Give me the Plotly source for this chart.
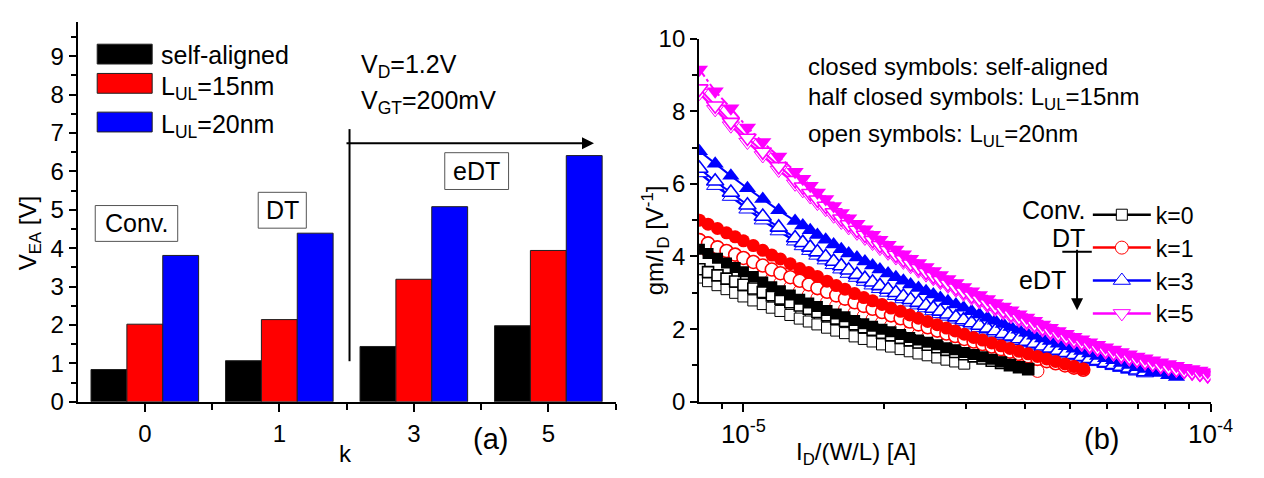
import plotly.graph_objects as go

W, H = 1264, 478
FONT = "Arial, Liberation Sans, sans-serif"

# ---------------- panel (a): V_EA bars ----------------
k_labels = ["0", "1", "3", "5"]
vea_self_aligned = [0.84, 1.07, 1.44, 1.98]
vea_lul15 = [2.02, 2.14, 3.19, 3.94]
vea_lul20 = [3.81, 4.39, 5.08, 6.41]

# ---------------- panel (b): gm/ID vs ID/(W/L) ----------------
# drain current grids in uA (one for k=0,1; one for k=3,5)
id_fine_uA = [8.05, 8.4, 8.8, 9.2, 9.6, 10.0, 10.5, 11.0, 11.5, 12.0, 12.6, 13.2, 13.8,
              14.4, 15.1, 15.8, 16.5, 17.3, 18.1, 18.9, 19.8, 20.7, 21.7, 22.7, 23.7,
              24.8, 26.0, 27.2, 28.4, 29.7, 31.1, 32.5, 34.0, 35.6, 37.2, 38.9, 40.7,
              42.6, 44.6, 46.6, 48.8, 51.0, 53.4]
id_coarse_uA = [8.05, 8.7, 9.4, 10.2, 11.0, 11.9, 12.9, 13.4, 13.9, 14.4, 15.0, 15.6,
                16.2, 16.8, 17.5, 18.2, 18.9, 19.6, 20.4, 21.2, 22.0, 22.8, 23.7, 24.6,
                25.5, 26.4, 27.4, 28.5, 29.6, 30.8, 32.0, 33.3, 34.6, 36.0,
                37.4, 38.9, 40.4, 42.0, 43.7, 45.4, 47.2, 49.1, 51.0, 53.0, 55.1, 57.3,
                59.6, 62.0, 64.4, 67.0, 69.6, 72.4, 75.2, 78.2, 81.3, 84.5, 87.8, 91.3,
                94.9, 98.6]

# k=0 (Conv.)
gm_k0_sa = [4.2, 4.08, 3.95, 3.82, 3.7, 3.58, 3.45, 3.3, 3.17, 3.06, 2.94, 2.82, 2.72,
            2.62, 2.51, 2.42, 2.34, 2.24, 2.15, 2.08, 2.0, 1.93, 1.85, 1.77, 1.7, 1.64,
            1.57, 1.49, 1.43, 1.36, 1.3, 1.24, 1.17, 1.1, 1.02, 0.95, 0.9]
gm_k0_15 = [3.65, 3.57, 3.48, 3.39, 3.31, 3.22, 3.12, 3.02, 2.93, 2.84, 2.74, 2.65, 2.56,
            2.47, 2.38, 2.29, 2.22, 2.13, 2.05, 1.98, 1.9, 1.83, 1.76, 1.69, 1.63, 1.57,
            1.5, 1.43, 1.37, 1.31, 1.25, 1.19, 1.13, 1.07, 1.01, 0.95, 0.9]
gm_k0_20 = [3.42, 3.32, 3.21, 3.1, 3.0, 2.9, 2.79, 2.69, 2.59, 2.5, 2.39, 2.29, 2.21,
            2.13, 2.04, 1.96, 1.89, 1.8, 1.73, 1.66, 1.58, 1.52, 1.45, 1.39, 1.33, 1.28,
            1.22, 1.16, 1.11, 1.05]
# k=1 (DT)
gm_k1_sa = [5.0, 4.89, 4.77, 4.65, 4.54, 4.43, 4.3, 4.17, 4.04, 3.93, 3.8, 3.67, 3.56,
            3.45, 3.32, 3.2, 3.1, 2.98, 2.87, 2.78, 2.68, 2.58, 2.49, 2.39, 2.3, 2.21,
            2.12, 2.03, 1.95, 1.86, 1.77, 1.7, 1.62, 1.54, 1.47, 1.39, 1.32, 1.25, 1.18,
            1.11, 1.04, 0.97, 0.9]
gm_k1_15 = [4.45, 4.36, 4.25, 4.15, 4.05, 3.96, 3.85, 3.75, 3.64, 3.54, 3.43, 3.33, 3.23,
            3.13, 3.03, 2.93, 2.84, 2.74, 2.64, 2.56, 2.47, 2.38, 2.3, 2.21, 2.13, 2.05,
            1.96, 1.88, 1.81, 1.73, 1.66, 1.59, 1.52, 1.45, 1.38, 1.32, 1.25, 1.18, 1.12,
            1.06, 1.0, 0.94, 0.88]
gm_k1_20 = [4.25, 4.14, 4.03, 3.92, 3.82, 3.72, 3.6, 3.48, 3.37, 3.27, 3.15, 3.04, 2.94,
            2.85, 2.74, 2.64, 2.55, 2.45, 2.36, 2.27, 2.18, 2.09, 2.0, 1.92, 1.85, 1.77,
            1.69, 1.61, 1.54, 1.47, 1.4, 1.33, 1.26, 1.19, 1.11, 1.03, 0.95, 0.85]
# k=3 (eDT)
gm_k3_sa = [6.9, 6.55, 6.22, 5.88, 5.58, 5.27, 4.98, 4.85, 4.72, 4.59, 4.46, 4.33, 4.2,
            4.08, 3.97, 3.86, 3.75, 3.64, 3.53, 3.43, 3.33, 3.23, 3.13, 3.04, 2.95, 2.86,
            2.77, 2.68, 2.59, 2.49, 2.4, 2.31, 2.23, 2.14, 2.06, 1.98,
            1.9, 1.82, 1.74, 1.67, 1.6, 1.53, 1.46, 1.4, 1.33, 1.26, 1.2, 1.14, 1.07,
            1.01, 0.95, 0.9, 0.84, 0.79, 0.73, 0.68]
gm_k3_15 = [6.42, 6.07, 5.76, 5.41, 5.1, 4.8, 4.51, 4.38, 4.25, 4.12, 3.99, 3.86, 3.74,
            3.62, 3.5, 3.39, 3.29, 3.19, 3.09, 3.0, 2.9, 2.81, 2.73, 2.65, 2.57, 2.49,
            2.41, 2.33, 2.25, 2.17, 2.1, 2.02, 1.95, 1.87, 1.8, 1.73,
            1.66, 1.6, 1.53, 1.47, 1.41, 1.35, 1.29, 1.24, 1.18, 1.13, 1.07, 1.02, 0.97,
            0.92, 0.87, 0.82]
gm_k3_20 = [6.3, 5.95, 5.65, 5.3, 5.0, 4.7, 4.42, 4.29, 4.16, 4.03, 3.9, 3.77, 3.65,
            3.53, 3.42, 3.31, 3.21, 3.11, 3.01, 2.92, 2.83, 2.74, 2.66, 2.58, 2.5, 2.42,
            2.35, 2.27, 2.2, 2.11, 2.04, 1.97, 1.89, 1.82, 1.75, 1.68,
            1.62, 1.56, 1.49, 1.43, 1.37, 1.31, 1.26, 1.2, 1.15, 1.1, 1.05, 0.99, 0.94,
            0.89, 0.84, 0.79]
# k=5 (eDT)
gm_k5_sa = [9.15, 8.55, 8.08, 7.55, 7.15, 6.75, 6.33, 6.14, 5.95, 5.76, 5.58, 5.39, 5.2,
            5.05, 4.9, 4.75, 4.6, 4.46, 4.32, 4.19, 4.06, 3.94, 3.82, 3.71, 3.6, 3.49,
            3.38, 3.27, 3.16, 3.04, 2.94, 2.83, 2.72, 2.62, 2.52, 2.41,
            2.32, 2.23, 2.13, 2.04, 1.95, 1.87, 1.79, 1.72, 1.64, 1.57, 1.5, 1.44, 1.37,
            1.31, 1.25, 1.2, 1.14, 1.09, 1.04, 0.99, 0.94, 0.9, 0.86, 0.82]
gm_k5_15 = [8.62, 8.15, 7.7, 7.26, 6.88, 6.48, 6.1, 5.92, 5.74, 5.56, 5.39, 5.21, 5.04,
            4.88, 4.73, 4.59, 4.45, 4.31, 4.17, 4.04, 3.92, 3.8, 3.68, 3.57, 3.46, 3.35,
            3.25, 3.14, 3.03, 2.92, 2.82, 2.71, 2.61, 2.51, 2.41, 2.31,
            2.22, 2.13, 2.03, 1.94, 1.86, 1.78, 1.7, 1.63, 1.55, 1.48, 1.41, 1.35, 1.28,
            1.22, 1.16, 1.1, 1.05, 0.99, 0.94, 0.89, 0.85, 0.81, 0.77, 0.73]
gm_k5_20 = [8.5, 8.05, 7.6, 7.15, 6.78, 6.38, 6.0, 5.82, 5.65, 5.47, 5.3, 5.12, 4.95,
            4.8, 4.65, 4.51, 4.37, 4.23, 4.1, 3.97, 3.85, 3.73, 3.61, 3.5, 3.4, 3.29,
            3.19, 3.08, 2.97, 2.86, 2.76, 2.65, 2.55, 2.45, 2.35, 2.25,
            2.16, 2.07, 1.98, 1.89, 1.81, 1.73, 1.65, 1.58, 1.51, 1.44, 1.37, 1.31, 1.24,
            1.18, 1.13, 1.07, 1.02, 0.97, 0.92, 0.87, 0.83, 0.79, 0.75, 0.71]

BLACK, RED, BLUE, MAG = "#000000", "#ff0000", "#0000ff", "#ff00ff"


def px(x):
    return x / W


def py(y):
    return 1 - y / H


fig = go.Figure()

# ---- bars
xpos = list(range(len(k_labels)))
for vals, col, nm in [(vea_self_aligned, BLACK, "self-aligned"),
                      (vea_lul15, RED, "L_UL=15nm"),
                      (vea_lul20, BLUE, "L_UL=20nm")]:
    fig.add_bar(x=xpos, y=vals, name=nm, marker=dict(color=col, line=dict(color="#202020", width=1)),
                xaxis="x", yaxis="y", showlegend=False)


def xs(grid, vals):
    return [v * 1e-6 for v in grid[:len(vals)]]


series = [
    # (grid, values, color, symbol, style, legend name, legend rank)
    (id_coarse_uA, gm_k3_20, BLUE, "triangle-up", "open", "k=3", 3),
    (id_coarse_uA, gm_k3_15, BLUE, "triangle-up", "half", None, 0),
    (id_coarse_uA, gm_k3_sa, BLUE, "triangle-up", "closed", None, 0),
    (id_coarse_uA, gm_k5_20, MAG, "triangle-down", "open", "k=5", 4),
    (id_coarse_uA, gm_k5_15, MAG, "triangle-down", "half", None, 0),
    (id_coarse_uA, gm_k5_sa, MAG, "triangle-down", "closed", None, 0),
    (id_fine_uA, gm_k1_20, RED, "circle", "open", "k=1", 2),
    (id_fine_uA, gm_k1_15, RED, "circle", "half", None, 0),
    (id_fine_uA, gm_k1_sa, RED, "circle", "closed", None, 0),
    (id_fine_uA, gm_k0_20, BLACK, "square", "open", "k=0", 1),
    (id_fine_uA, gm_k0_15, BLACK, "square", "half", None, 0),
    (id_fine_uA, gm_k0_sa, BLACK, "square", "closed", None, 0),
]
sizes = {"square": 11, "circle": 13, "triangle-up": 15, "triangle-down": 15}
for grid, vals, col, sym, style, nm, rank in series:
    if style == "closed":
        mk = dict(symbol=sym, size=sizes[sym], color=col, line=dict(width=0))
    elif style == "half":
        mk = dict(symbol=sym, size=sizes[sym], color="white", line=dict(color=col, width=1.6))
    else:
        mk = dict(symbol=sym, size=sizes[sym], color="white", line=dict(color=col, width=1))
    dash = "dashdot" if (col == MAG and style == "closed") else "solid"
    fig.add_trace(go.Scatter(
        x=xs(grid, vals), y=vals, mode="lines+markers", marker=mk,
        line=dict(color=col, width=2.5 if style == "open" else 2, dash=dash),
        name=nm if nm else "", showlegend=nm is not None,
        legend="legend2", legendrank=rank if rank else 1000,
        xaxis="x2", yaxis="y2"))

axis_common = dict(showline=True, linecolor="black", linewidth=2, ticks="outside",
                   tickcolor="black", tickwidth=2, showgrid=False, zeroline=False,
                   mirror=False)

fig.update_layout(
    width=W, height=H, autosize=False,
    margin=dict(l=0, r=0, t=0, b=0),
    paper_bgcolor="white", plot_bgcolor="white",
    font=dict(family=FONT, color="black", size=24),
    barmode="group", bargap=0.2, bargroupgap=0,
    showlegend=True,
    xaxis=dict(domain=[px(79), px(627)], range=[-0.5, 3.5], tickmode="array",
               tickvals=xpos, ticktext=k_labels, ticklen=8, anchor="y",
               ticklabelstandoff=1, tickfont=dict(size=24, family=FONT, color="black"),
               minor=dict(tickmode="array", tickvals=[0.5, 1.5, 2.5, 3.5], ticklen=6,
                          ticks="outside", tickcolor="black", tickwidth=2),
               **axis_common),
    yaxis=dict(domain=[py(411), py(8)], range=[0, 9.9], tickmode="linear", tick0=0, dtick=1,
               ticklen=7, anchor="x", tickfont=dict(size=24, family=FONT, color="black"),
               minor=dict(dtick=0.5, ticklen=5, ticks="outside", tickcolor="black", tickwidth=2),
               **axis_common),
    xaxis2=dict(type="log", domain=[px(712), px(1233)], range=[-5.095, -4.0], anchor="y2",
                tickmode="array", tickvals=[1e-5, 1e-4],
                ticktext=["10<sup>-5</sup>", "10<sup>-4</sup>"], ticklen=8,
                ticklabelstandoff=0, tickfont=dict(size=26, family=FONT, color="black"),
                minor=dict(tickmode="array",
                           tickvals=[9e-6, 2e-5, 3e-5, 4e-5, 5e-5, 6e-5, 7e-5, 8e-5, 9e-5],
                           ticklen=5, ticks="outside", tickcolor="black", tickwidth=2),
                **axis_common),
    yaxis2=dict(domain=[py(411), py(26)], range=[0, 10], tickmode="linear", tick0=0, dtick=2,
                ticklen=7, anchor="x2", tickfont=dict(size=24, family=FONT, color="black"),
                minor=dict(dtick=1, ticklen=5, ticks="outside", tickcolor="black", tickwidth=2),
                **axis_common),
    legend2=dict(x=px(1108), y=py(190), xanchor="left", yanchor="top",
                 font=dict(size=23, family=FONT, color="black"),
                 bgcolor="rgba(0,0,0,0)", borderwidth=0, tracegroupgap=0,
                 itemwidth=58, itemsizing="trace"),
)

shapes = []
annotations = []


def text(t, x, y, xanchor="left", yanchor="middle", size=24, angle=0):
    annotations.append(dict(text=t, x=px(x), y=py(y), xref="paper", yref="paper",
                            xanchor=xanchor, yanchor=yanchor, showarrow=False,
                            textangle=angle, font=dict(size=size, family=FONT, color="black")))


def rect(x0, y0, x1, y1, fill="rgba(0,0,0,0)", line="#555555", lw=1):
    shapes.append(dict(type="rect", xref="paper", yref="paper", x0=px(x0), x1=px(x1),
                       y0=py(y1), y1=py(y0), fillcolor=fill, line=dict(color=line, width=lw)))


def line(x0, y0, x1, y1, lw=2):
    shapes.append(dict(type="line", xref="paper", yref="paper", x0=px(x0), x1=px(x1),
                       y0=py(y0), y1=py(y1), line=dict(color="black", width=lw)))


# panel (a) legend
rect(99, 32, 155, 53, fill=BLACK, line="#202020")
rect(99, 63, 155, 84, fill=RED, line="#202020")
rect(99, 104, 155, 125, fill=BLUE, line="#202020")
text("self-aligned", 162, 43, size=25)
text("L<sub>UL</sub>=15nm", 162, 78, size=25)
text("L<sub>UL</sub>=20nm", 162, 119, size=25)

# panel (a) annotations
text("V<sub>D</sub>=1.2V", 366, 55, size=25)
text("V<sub>GT</sub>=200mV", 366, 93, size=25)
line(356, 122, 356, 368)
annotations.append(dict(x=px(605), y=py(137), xref="paper", yref="paper",
                        ax=-249, ay=0, axref="pixel", ayref="pixel", text="",
                        showarrow=True, arrowhead=2, arrowsize=1.2, arrowwidth=2,
                        arrowcolor="black"))
rect(97, 203, 181, 241)
text("Conv.", 139, 222, xanchor="center", size=25)
rect(263, 189, 312, 227)
text("DT", 287.5, 208, xanchor="center", size=25)
rect(453, 147, 518, 186)
text("eDT", 485.5, 166, xanchor="center", size=25)
text("(a)", 500, 450, xanchor="center", size=29)
text("k", 352, 466, xanchor="center", size=24)
text("V<sub>EA</sub> [V]", 30, 232, xanchor="center", angle=-90, size=24)

# panel (b) annotations
text("closed symbols: self-aligned", 821, 56)
text("half closed symbols: L<sub>UL</sub>=15nm", 821, 90)
text("open symbols: L<sub>UL</sub>=20nm", 821, 129)
text("Conv.", 1107, 208, xanchor="right", size=25)
text("DT", 1107, 237, xanchor="right", size=25)
text("eDT", 1062, 282, xanchor="center", size=25)
line(1082, 252, 1112, 252)
annotations.append(dict(x=px(1097), y=py(314), xref="paper", yref="paper",
                        ax=0, ay=-62, axref="pixel", ayref="pixel", text="",
                        showarrow=True, arrowhead=2, arrowsize=1.2, arrowwidth=2,
                        arrowcolor="black"))
text("(b)", 1122, 450, xanchor="center", size=29)
text("I<sub>D</sub>/(W/L) [A]", 872, 466, xanchor="center", size=24)
text("gm/I<sub>D</sub> [V<sup>-1</sup>]", 668, 240, xanchor="center", angle=-90, size=24)

fig.update_layout(shapes=shapes, annotations=annotations)
fig.write_html("out.html")
